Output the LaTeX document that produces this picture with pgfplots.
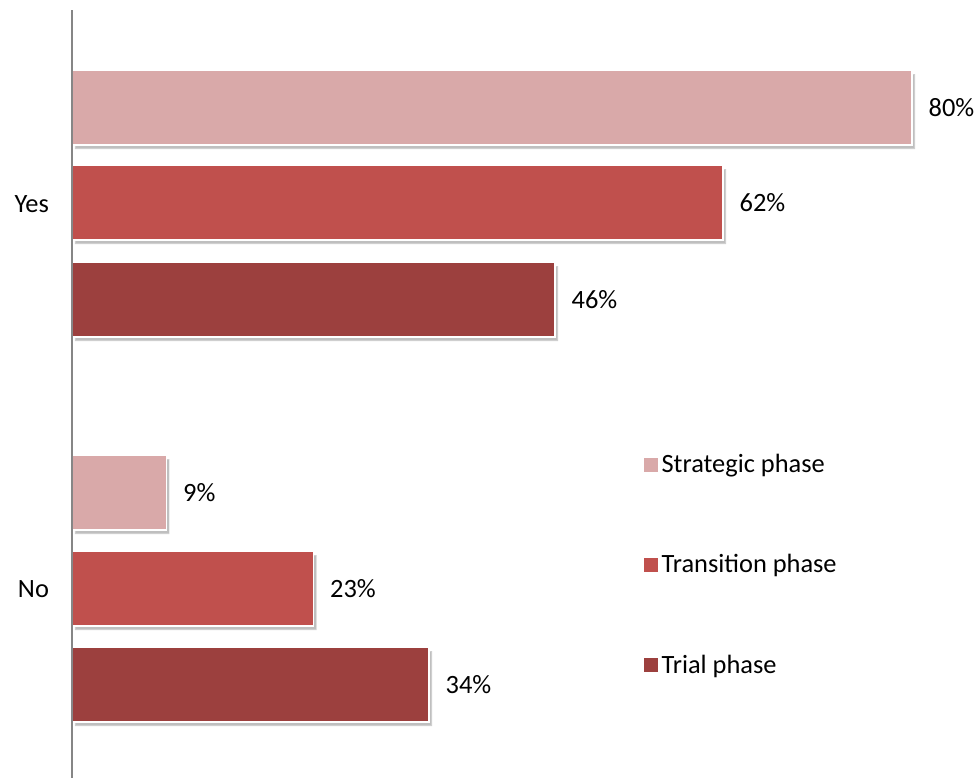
\documentclass[border=0pt]{standalone}
\usepackage{pgfplots}
\pgfplotsset{compat=1.18}
\usepackage{fontspec}
\setmainfont{Carlito}

\definecolor{strat}{HTML}{D9A9A9}
\definecolor{trans}{HTML}{C0504D}
\definecolor{trial}{HTML}{9C403E}
\definecolor{axgray}{HTML}{868686}

\pgfplotsset{
  barshadow/.style={fill=#1, draw=white, line width=0.8pt,
    preaction={fill=black, opacity=0.25, transform canvas={xshift=1.5pt, yshift=-2pt}}},
}

\begin{document}
\begin{tikzpicture}[x=1pt,y=1pt]
\begin{axis}[
  scale only axis,
  width=451.5pt, height=384pt,
  xmin=0, xmax=86,
  ymin=10, ymax=778,
  y dir=reverse,
  axis on top,
  axis x line=none,
  axis y line=left,
  y axis line style={axgray, line width=1pt, -},
  ytick={204,589},
  yticklabels={Yes,No},
  major tick length=0pt,
  yticklabel style={font=\fontsize{13.2}{15}\selectfont, xshift=-8pt},
  xbar, bar shift=0pt, bar width=75,
  clip=false,
  nodes near coords={\pgfmathprintnumber[assume math mode=true]{\pgfplotspointmeta}\%},
  every node near coord/.append style={font=\fontsize{13.2}{15}\selectfont, anchor=west, xshift=4.6pt, black},
  legend image code/.code={\fill[#1, draw=none] (0pt,-3.5pt) rectangle (7pt,3.5pt);},
  legend style={draw=none, fill=none, at={(axis cs:54.4,565)}, anchor=west,
    font=\fontsize{13.2}{15}\selectfont, row sep=35.5pt,
    cells={anchor=west}, inner sep=0pt},
  legend cell align=left,
]
\addplot[barshadow=strat, forget plot] coordinates {(80,107.5) (9,492.5)};
\addplot[barshadow=trans, forget plot] coordinates {(62,202.5) (23,588.5)};
\addplot[barshadow=trial, forget plot] coordinates {(46,299.5) (34,684.5)};
\addlegendimage{fill=strat, draw=none}
\addlegendentry{Strategic phase}
\addlegendimage{fill=trans, draw=none}
\addlegendentry{Transition phase}
\addlegendimage{fill=trial, draw=none}
\addlegendentry{Trial phase}
\end{axis}
\pgfresetboundingbox
\path (-36pt,0pt) rectangle (453.5pt,389pt);
\end{tikzpicture}
\end{document}
